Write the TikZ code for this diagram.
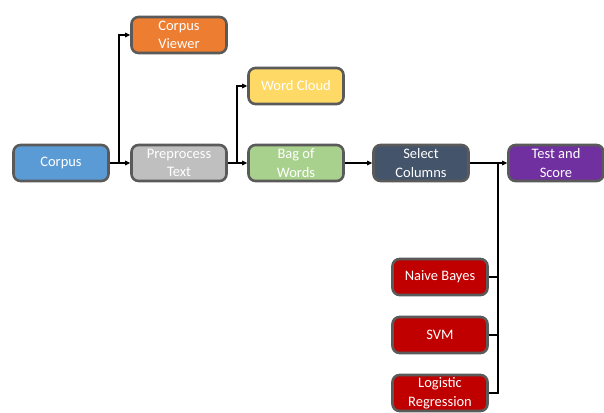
\documentclass[tikz,border=0pt]{standalone}
\usepackage{fontspec}
\setmainfont{Carlito}
\usetikzlibrary{arrows.meta}
\definecolor{cblue}{HTML}{5B9BD5}
\definecolor{corange}{HTML}{ED7D31}
\definecolor{cyellow}{HTML}{FFD966}
\definecolor{cgray}{HTML}{BFBFBF}
\definecolor{cgreen}{HTML}{A9D18E}
\definecolor{cslate}{HTML}{44546A}
\definecolor{cpurple}{HTML}{7030A0}
\definecolor{cred}{HTML}{C00000}
\definecolor{cborder}{HTML}{5A5A5A}
\begin{document}
\begin{tikzpicture}[x=1pt,y=-1pt,
  box/.style={draw=cborder, line width=2.6pt, rounded corners=7pt, minimum width=95pt, minimum height=36pt,
    text=white, font=\fontsize{14.5}{18.5}\selectfont, align=center, inner sep=1pt},
  conn/.style={line width=1.1pt, black},
  arr/.style={conn, -{Triangle[length=5pt,width=4.5pt]}}]
\useasboundingbox (0,0) rectangle (604,412);
\node[box, fill=cblue] (corpus) at (61,163) {Corpus};
\node[box, fill=cgray] (pre) at (179,163) {Preprocess\\Text};
\node[box, fill=corange] (viewer) at (179,35) {Corpus\\Viewer};
\node[box, fill=cyellow] (cloud) at (296,86) {Word Cloud};
\node[box, fill=cgreen] (bow) at (296,163) {Bag of\\Words};
\node[box, fill=cslate] (sel) at (421,163) {Select\\Columns};
\node[box, fill=cpurple] (test) at (556,163) {Test and\\Score};
\node[box, fill=cred] (nb) at (440,277) {Naive Bayes};
\node[box, fill=cred] (svm) at (440,335) {SVM};
\node[box, fill=cred] (lr) at (440,393) {Logistic\\Regression};
\coordinate (j1) at (119,163);
\coordinate (j2) at (237,163);
\coordinate (j3) at (498,163);
\draw[arr] (corpus.east) -- (pre.west);
\draw[arr] (j1) |- (viewer.west);
\draw[arr] (pre.east) -- (bow.west);
\draw[arr] (j2) |- (cloud.west);
\draw[arr] (bow.east) -- (sel.west);
\draw[arr] (sel.east) -- (test.west);
\draw[conn] (j3) |- (lr.east);
\draw[conn] (nb.east) -- (nb.east -| j3);
\draw[conn] (svm.east) -- (svm.east -| j3);
\end{tikzpicture}
\end{document}
